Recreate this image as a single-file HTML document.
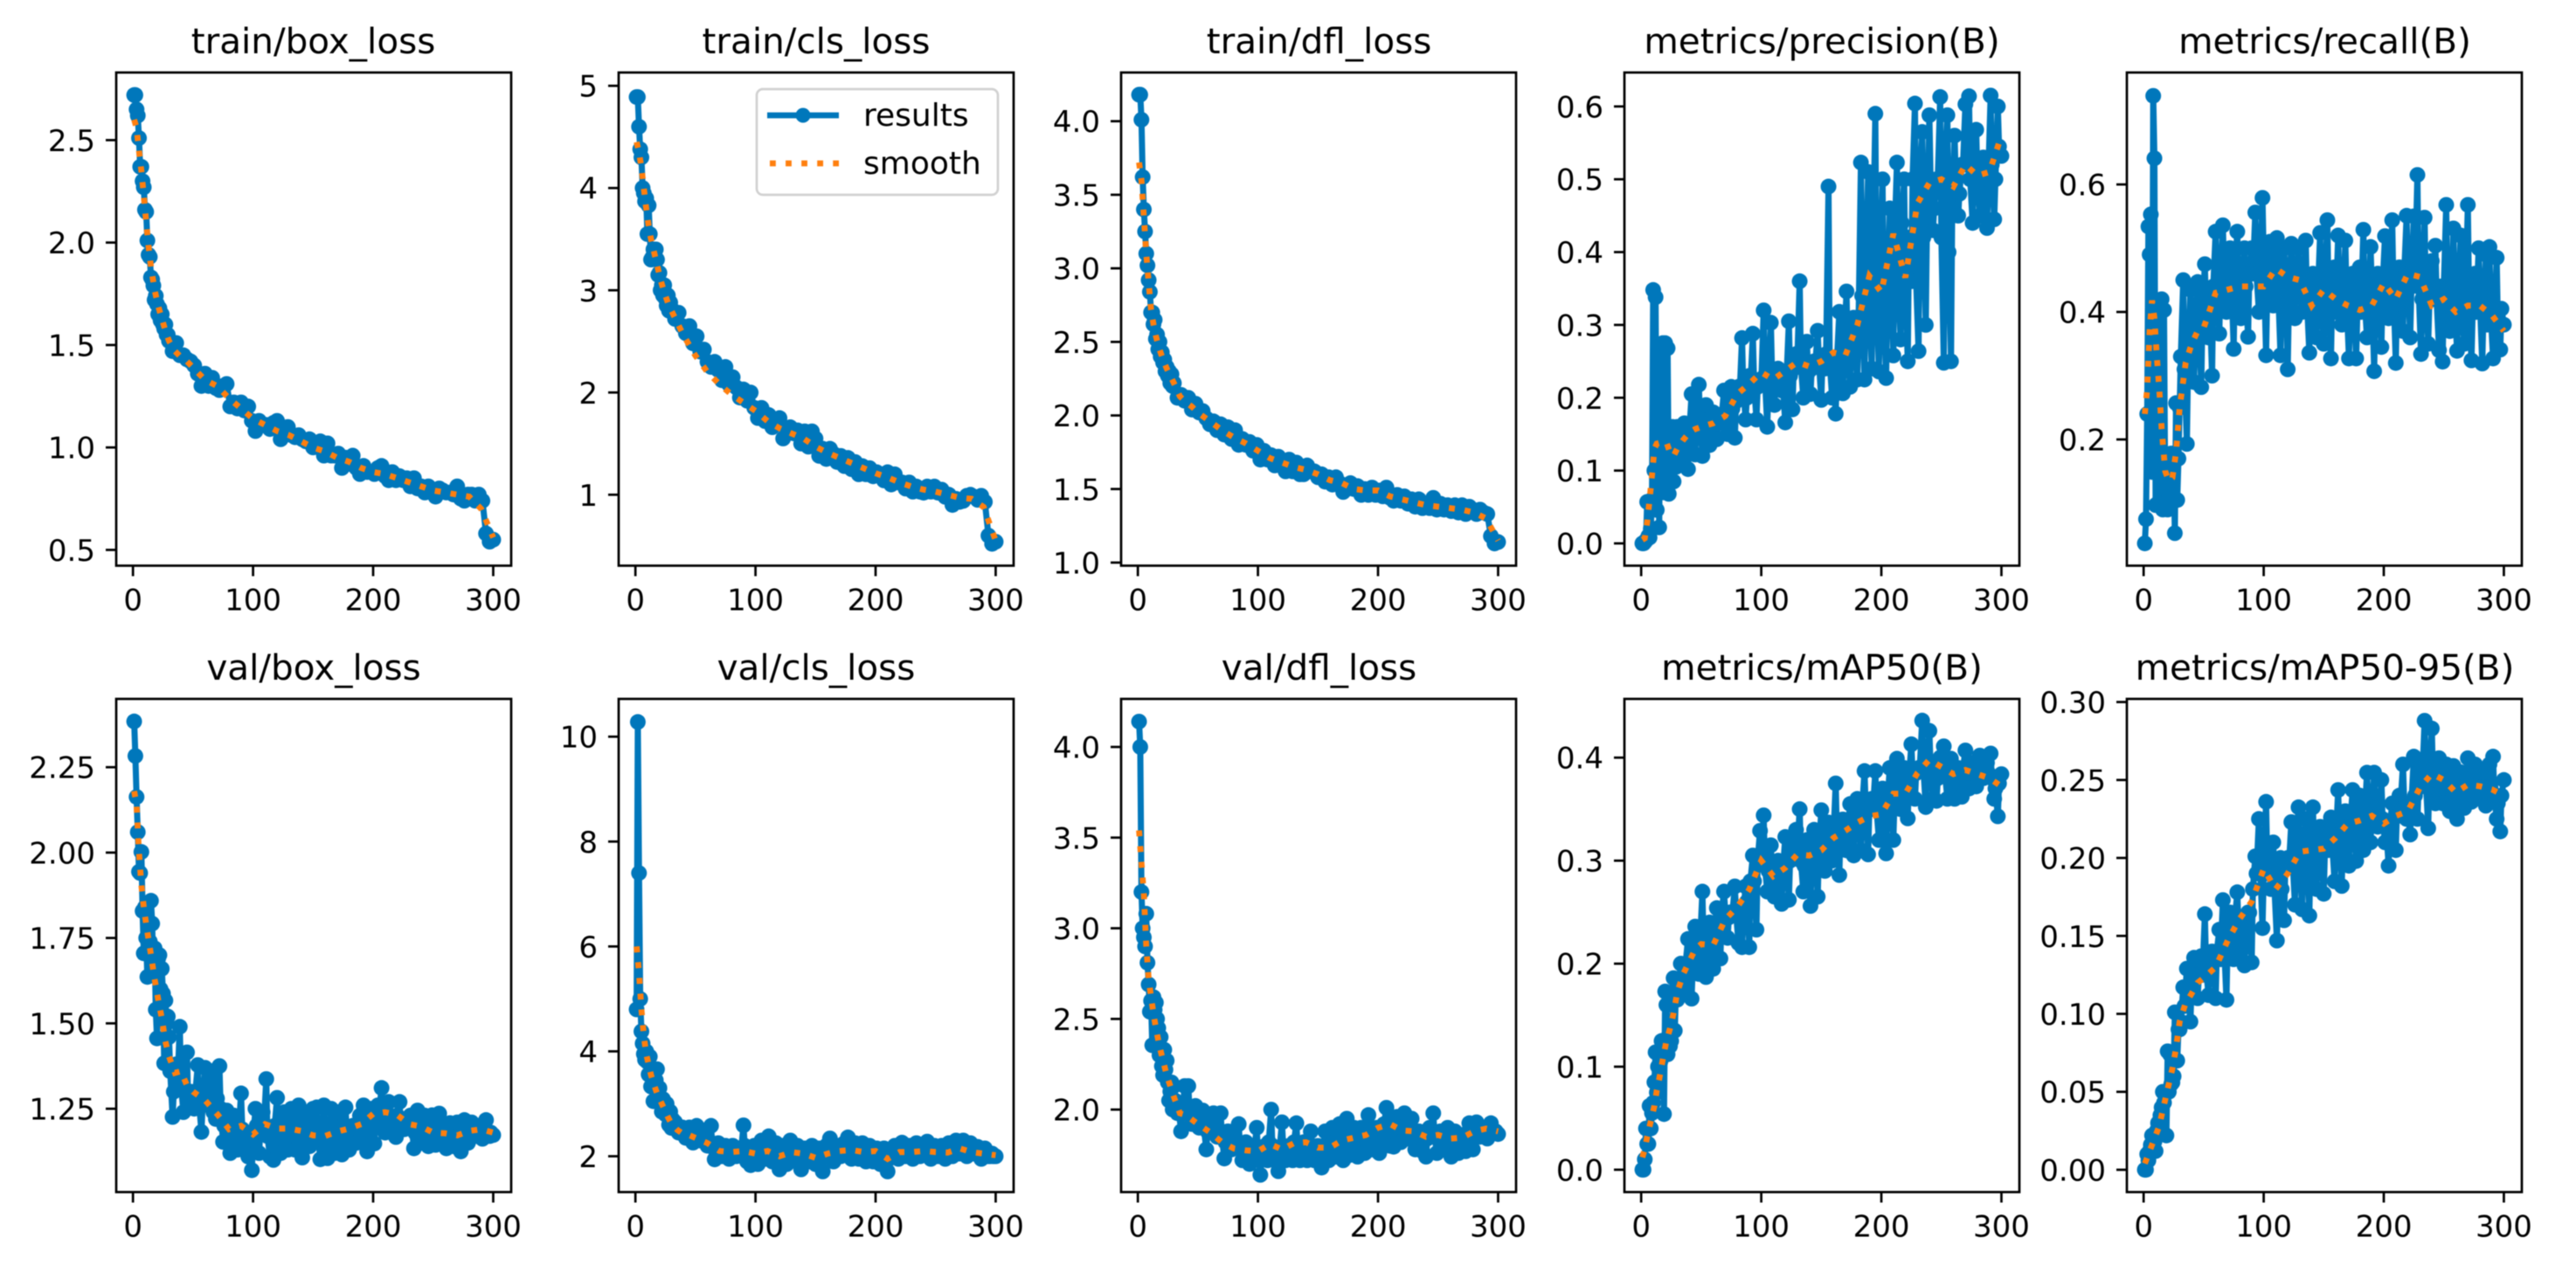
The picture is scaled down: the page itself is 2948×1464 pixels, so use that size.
<!DOCTYPE html>
<html lang="en">
<head>
<meta charset="utf-8">
<title>Training results</title>
<style>
html,body{margin:0;padding:0;background:#fff;width:2948px;height:1464px;overflow:hidden}
svg{display:block;filter:blur(0.5px)}
text{font-family:"DejaVu Sans","Liberation Sans",sans-serif;fill:#000}
.title{font-size:40.5px;text-anchor:middle}
.tick{font-size:34px}
.legend-label{font-size:36px}
</style>
</head>
<body>
<svg id="figure" xmlns="http://www.w3.org/2000/svg" width="2948" height="1464" viewBox="0 0 2948 1464">
  <rect x="0" y="0" width="2948" height="1464" fill="#fff"/>
  <g id="p0"><text class="title" x="358.5" y="61">train/box_loss</text></g>
  <g id="p1"><text class="title" x="934" y="61">train/cls_loss</text></g>
  <g id="p2"><text class="title" x="1509.5" y="61">train/dfl_loss</text></g>
  <g id="p3"><text class="title" x="2085" y="61">metrics/precision(B)</text></g>
  <g id="p4"><text class="title" x="2660.5" y="61">metrics/recall(B)</text></g>
  <g id="p5"><text class="title" x="359" y="778">val/box_loss</text></g>
  <g id="p6"><text class="title" x="934" y="778">val/cls_loss</text></g>
  <g id="p7"><text class="title" x="1509.5" y="778">val/dfl_loss</text></g>
  <g id="p8"><text class="title" x="2085" y="778">metrics/mAP50(B)</text></g>
  <g id="p9"><text class="title" x="2660.5" y="778">metrics/mAP50-95(B)</text></g>
  <g id="legend">
    <rect x="866" y="102" width="276" height="121" rx="7" ry="7" fill="#fff" fill-opacity="0.8" stroke="#ccc" stroke-opacity="0.9" stroke-width="2.7"/>
    <g>
      <line x1="878" y1="132" x2="960" y2="132" stroke="#0077bb" stroke-width="6.8"/>
      <circle cx="919" cy="132" r="8.5" fill="#0077bb"/>
      <text class="legend-label" x="988" y="144">results</text>
    </g>
    <g>
      <line x1="881" y1="187" x2="960" y2="187" stroke="#ff7f0e" stroke-width="6.8" stroke-dasharray="6.82 11.25"/>
      <text class="legend-label" x="988" y="199">smooth</text>
    </g>
  </g>
</svg>
<script>
// ---- shared x data ----
const epochs = [
 1,2,3,4,5,6,7,8,9,10,
 11,12,13,14,15,16,17,18,19,20,
 21,22,23,24,25,26,27,28,29,30,
 33,36,39,42,45,48,51,54,57,60,
 63,66,69,72,75,78,81,84,87,90,
 93,96,99,102,105,108,111,114,117,120,
 123,126,129,132,135,138,141,144,147,150,
 153,156,159,162,165,168,171,174,177,180,
 183,186,189,192,195,198,201,204,207,210,
 213,216,219,222,225,228,231,234,237,240,
 243,246,249,252,255,258,261,264,267,270,
 273,276,279,282,285,288,291,294,297,300];
const midEpochs = [
 31,34,37,40,43,46,49,52,55,58,
 61,64,67,70,73,76,79,82,85,88,
 91,94,97,100,103,106,109,112,115,118,
 121,124,127,130,133,136,139,142,145,148,
 151,154,157,160,163,166,169,172,175,178,
 181,184,187,190,193,196,199,202,205,208,
 211,214,217,220,223,226,229,232,235,238,
 241,244,247,250,253,256,259,262,265,268,
 271,274,277,280,283,286,289,292,295,298];
const smoothEpochs = [1,3,5,7,9,11,13,15,18,21,24,27,30,35,40,45,50,60,70,80,90,100,110,120,130,140,150,160,170,180,190,200,210,220,230,240,250,260,270,280,290,300];
const xTickValues = [0,100,200,300];

// ---- series values (results) ----
const trainBoxLoss = [
 2.72,2.72,2.65,2.62,2.51,2.37,2.37,2.30,2.27,2.16,
 2.15,2.01,1.94,1.93,1.83,1.82,1.79,1.72,1.74,1.70,
 1.65,1.68,1.62,1.65,1.60,1.58,1.60,1.55,1.55,1.52,
 1.47,1.51,1.45,1.45,1.43,1.42,1.40,1.36,1.30,1.36,
 1.30,1.34,1.29,1.28,1.30,1.31,1.20,1.22,1.19,1.22,
 1.18,1.20,1.13,1.08,1.13,1.11,1.11,1.09,1.12,1.13,
 1.04,1.07,1.10,1.06,1.05,1.06,1.04,1.03,1.04,1.00,
 1.02,1.03,0.96,1.02,0.96,0.96,0.97,0.90,0.95,0.92,
 0.96,0.90,0.87,0.91,0.88,0.88,0.87,0.90,0.91,0.86,
 0.84,0.88,0.84,0.86,0.84,0.85,0.81,0.85,0.80,0.81,
 0.78,0.81,0.78,0.76,0.80,0.79,0.78,0.78,0.77,0.81,
 0.75,0.74,0.77,0.77,0.74,0.77,0.74,0.58,0.54,0.55];
const trainClsLoss = [
 4.89,4.89,4.60,4.38,4.30,4.00,3.95,3.87,3.90,3.55,
 3.83,3.55,3.30,3.32,3.40,3.36,3.40,3.30,3.15,3.17,
 3.00,3.05,2.95,3.05,2.92,2.85,2.95,2.80,2.88,2.82,
 2.72,2.78,2.65,2.58,2.65,2.48,2.55,2.40,2.42,2.30,
 2.25,2.30,2.22,2.12,2.25,2.08,2.15,2.05,1.95,2.03,
 1.92,2.00,1.85,1.75,1.85,1.72,1.78,1.66,1.72,1.75,
 1.55,1.65,1.66,1.60,1.63,1.50,1.62,1.47,1.62,1.55,
 1.38,1.45,1.35,1.45,1.40,1.32,1.38,1.28,1.36,1.25,
 1.32,1.20,1.28,1.20,1.26,1.18,1.22,1.18,1.14,1.22,
 1.10,1.20,1.12,1.12,1.06,1.12,1.03,1.08,1.03,1.02,
 1.08,1.03,1.08,1.02,1.05,0.98,1.00,0.90,0.96,0.93,
 0.94,0.99,1.00,0.98,0.95,0.99,0.93,0.60,0.52,0.54];
const trainDflLoss = [
 4.18,4.18,4.01,3.62,3.40,3.25,3.10,3.02,2.92,2.84,
 2.70,2.70,2.62,2.65,2.52,2.55,2.45,2.50,2.40,2.43,
 2.36,2.38,2.30,2.33,2.27,2.30,2.22,2.28,2.20,2.22,
 2.12,2.14,2.10,2.12,2.04,2.08,2.02,2.03,1.98,1.94,
 1.96,1.90,1.94,1.87,1.92,1.84,1.90,1.80,1.84,1.80,
 1.82,1.76,1.80,1.70,1.76,1.70,1.73,1.66,1.72,1.68,
 1.62,1.70,1.62,1.68,1.60,1.60,1.66,1.62,1.62,1.58,
 1.60,1.55,1.58,1.53,1.58,1.54,1.48,1.50,1.54,1.50,
 1.52,1.46,1.50,1.46,1.51,1.46,1.49,1.45,1.51,1.44,
 1.42,1.46,1.42,1.45,1.40,1.43,1.38,1.43,1.37,1.39,
 1.37,1.44,1.36,1.40,1.36,1.39,1.35,1.39,1.34,1.39,
 1.33,1.38,1.36,1.33,1.36,1.34,1.33,1.18,1.13,1.14];
const precision = [
 .000,.000,.002,.004,.057,.010,.008,.020,.060,.348,
 .100,.338,.046,.270,.022,.270,.090,.275,.070,.275,
 .085,.268,.068,.150,.110,.160,.085,.140,.105,.160,
 .110,.165,.102,.205,.122,.218,.120,.190,.135,.180,
 .143,.170,.210,.150,.215,.145,.215,.282,.170,.230,
 .288,.170,.225,.320,.160,.303,.190,.240,.210,.166,
 .305,.184,.260,.360,.200,.277,.205,.250,.292,.197,
 .240,.490,.200,.178,.318,.206,.346,.215,.310,.225,
 .523,.225,.510,.240,.590,.236,.500,.227,.460,.258,
 .523,.280,.500,.250,.360,.604,.264,.565,.300,.588,
 .430,.500,.613,.248,.588,.250,.560,.450,.520,.603,
 .614,.440,.568,.450,.530,.433,.615,.445,.600,.532];
const precisionMid = [
 .140,.135,.150,.150,.160,.165,.170,.160,.160,.155,
 .165,.165,.175,.180,.185,.185,.195,.205,.215,.200,
 .215,.220,.215,.220,.230,.220,.230,.230,.225,.215,
 .225,.230,.240,.250,.245,.240,.235,.240,.245,.250,
 .255,.260,.250,.240,.250,.260,.270,.260,.270,.280,
 .300,.340,.380,.330,.400,.340,.360,.320,.340,.370,
 .420,.360,.440,.360,.420,.500,.360,.500,.420,.440,
 .500,.460,.500,.420,.520,.400,.460,.500,.480,.520,
 .520,.500,.520,.500,.480,.520,.500,.520,.500,.545];
const recall = [
 .037,.075,.240,.534,.490,.553,.149,.739,.641,.097,
 .400,.100,.350,.095,.420,.090,.403,.100,.160,.090,
 .175,.110,.178,.105,.178,.053,.257,.105,.170,.250,
 .450,.193,.435,.290,.447,.282,.475,.360,.300,.526,
 .366,.536,.400,.500,.342,.526,.390,.500,.361,.500,
 .556,.400,.579,.332,.510,.410,.516,.332,.500,.310,
 .507,.390,.500,.400,.512,.336,.460,.360,.524,.350,
 .544,.327,.470,.520,.380,.512,.327,.460,.327,.470,
 .529,.360,.502,.307,.460,.345,.519,.390,.544,.320,
 .470,.370,.551,.360,.550,.615,.334,.548,.350,.480,
 .504,.340,.322,.568,.370,.531,.339,.520,.350,.568,
 .324,.460,.500,.319,.490,.502,.327,.485,.341,.380];
const recallMid = [
 .330,.310,.320,.360,.380,.380,.400,.400,.420,.440,
 .440,.440,.460,.440,.460,.460,.440,.440,.440,.460,
 .460,.460,.460,.480,.440,.460,.480,.440,.460,.460,
 .420,.440,.460,.440,.440,.420,.420,.400,.420,.420,
 .440,.420,.420,.400,.440,.400,.420,.400,.420,.400,
 .400,.420,.400,.440,.420,.420,.440,.460,.440,.440,
 .420,.420,.460,.460,.440,.460,.440,.420,.420,.420,
 .420,.420,.440,.440,.420,.400,.420,.420,.400,.420,
 .420,.400,.400,.420,.400,.380,.400,.380,.380,.405];
const valBoxLoss = [
 2.384,2.283,2.163,2.06,1.944,1.94,2.002,1.829,1.705,1.84,
 1.75,1.636,1.80,1.74,1.859,1.792,1.64,1.72,1.54,1.456,
 1.69,1.70,1.60,1.66,1.587,1.383,1.567,1.50,1.52,1.46,
 1.226,1.38,1.49,1.24,1.415,1.30,1.25,1.378,1.182,1.37,
 1.26,1.36,1.22,1.375,1.153,1.245,1.12,1.23,1.13,1.295,
 1.15,1.11,1.07,1.25,1.12,1.24,1.337,1.11,1.10,1.282,
 1.12,1.24,1.13,1.25,1.13,1.26,1.107,1.23,1.14,1.25,
 1.254,1.102,1.26,1.105,1.25,1.12,1.24,1.116,1.254,1.13,
 1.20,1.15,1.23,1.26,1.125,1.25,1.148,1.26,1.311,1.18,
 1.27,1.18,1.167,1.27,1.20,1.21,1.23,1.134,1.245,1.15,
 1.23,1.14,1.231,1.144,1.236,1.15,1.134,1.208,1.14,1.21,
 1.125,1.217,1.15,1.21,1.17,1.20,1.162,1.217,1.17,1.173];
const valBoxMid = [
 1.36,1.30,1.32,1.32,1.30,1.26,1.28,1.30,1.27,1.26,
 1.28,1.30,1.24,1.28,1.25,1.20,1.20,1.18,1.18,1.18,
 1.19,1.17,1.16,1.16,1.20,1.18,1.20,1.17,1.18,1.20,
 1.18,1.20,1.18,1.19,1.18,1.18,1.20,1.18,1.17,1.18,
 1.17,1.18,1.16,1.18,1.16,1.18,1.18,1.17,1.20,1.18,
 1.17,1.20,1.19,1.18,1.20,1.19,1.20,1.22,1.24,1.22,
 1.20,1.23,1.22,1.23,1.20,1.19,1.22,1.20,1.18,1.20,
 1.18,1.19,1.18,1.19,1.19,1.18,1.18,1.17,1.17,1.18,
 1.17,1.16,1.18,1.18,1.17,1.18,1.19,1.19,1.18,1.18];
const valClsLoss = [
 4.80,10.28,7.40,5.00,4.38,4.15,3.95,3.84,4.00,3.80,
 3.56,3.90,3.33,3.60,3.05,3.30,3.45,3.66,3.05,3.30,
 3.10,2.85,3.09,2.95,2.80,3.00,2.85,2.60,2.85,2.54,
 2.65,2.45,2.55,2.35,2.55,2.26,2.58,2.30,2.45,2.20,
 2.58,1.94,2.25,2.00,2.20,1.95,2.20,2.00,2.15,2.59,
 1.90,1.83,2.20,1.85,2.30,1.95,2.38,1.90,2.25,1.75,
 2.20,1.85,2.30,1.95,2.20,1.75,2.15,1.90,2.20,1.85,
 2.15,1.71,2.20,2.34,1.90,2.20,2.00,2.25,2.36,1.95,
 2.25,1.95,2.25,1.90,2.20,1.90,2.15,1.85,2.15,1.71,
 2.00,2.20,1.95,2.26,2.00,2.20,1.95,2.25,2.00,2.20,
 2.28,1.95,2.20,2.00,2.20,1.95,2.25,2.00,2.30,2.05,
 2.30,2.00,2.25,2.05,2.18,1.95,2.15,2.00,2.05,2.00];
const valClsMid = [
 2.70,2.60,2.55,2.50,2.42,2.42,2.40,2.35,2.30,2.30,
 2.30,2.20,2.10,2.10,2.10,2.10,2.08,2.10,2.08,2.10,
 2.20,2.05,2.00,2.05,2.10,2.05,2.15,2.10,2.05,2.00,
 2.05,2.10,2.05,2.10,2.05,2.00,2.05,2.05,2.05,2.05,
 2.00,1.95,2.00,2.10,2.05,2.10,2.10,2.15,2.15,2.10,
 2.10,2.05,2.10,2.05,2.10,2.05,2.05,2.10,2.00,1.95,
 1.95,2.00,2.05,2.05,2.10,2.05,2.10,2.05,2.10,2.10,
 2.10,2.05,2.10,2.05,2.08,2.05,2.10,2.10,2.10,2.15,
 2.15,2.10,2.10,2.10,2.10,2.05,2.05,2.05,2.00,2.00];
const valDflLoss = [
 4.14,4.00,3.20,3.00,2.95,2.90,3.08,2.81,2.69,2.54,
 2.60,2.355,2.62,2.55,2.59,2.50,2.45,2.30,2.40,2.24,
 2.19,2.33,2.22,2.27,2.15,2.05,2.10,2.15,2.00,2.13,
 1.98,1.88,2.13,2.13,1.92,2.02,1.90,1.995,1.78,1.95,
 1.98,1.85,1.98,1.73,1.88,1.78,1.80,1.92,1.72,1.82,
 1.70,1.80,1.90,1.64,1.75,1.72,2.00,1.72,1.66,1.93,
 1.72,1.80,1.72,1.925,1.72,1.82,1.72,1.88,1.72,1.80,
 1.68,1.88,1.72,1.90,1.74,1.92,1.72,1.95,1.75,1.90,
 1.74,1.90,1.76,1.97,1.78,1.80,1.76,1.80,2.01,1.80,
 1.795,1.96,1.82,1.98,1.84,1.95,1.78,1.88,1.77,1.74,
 1.90,1.98,1.76,1.88,1.78,1.90,1.74,1.88,1.76,1.85,
 1.77,1.925,1.78,1.93,1.85,1.88,1.84,1.925,1.87,1.865];
const valDflMid = [
 2.05,2.00,1.98,2.00,2.00,1.95,1.95,1.92,1.90,1.88,
 1.88,1.88,1.88,1.85,1.82,1.82,1.82,1.82,1.80,1.78,
 1.78,1.76,1.78,1.76,1.74,1.80,1.82,1.80,1.78,1.78,
 1.80,1.78,1.80,1.82,1.80,1.80,1.80,1.78,1.80,1.78,
 1.78,1.78,1.80,1.80,1.82,1.82,1.84,1.85,1.85,1.86,
 1.85,1.84,1.86,1.86,1.88,1.88,1.90,1.90,1.92,1.90,
 1.88,1.88,1.90,1.90,1.88,1.88,1.88,1.86,1.85,1.84,
 1.84,1.86,1.86,1.85,1.85,1.84,1.83,1.83,1.83,1.84,
 1.85,1.87,1.88,1.88,1.88,1.89,1.88,1.88,1.88,1.88];
const mAP50 = [
 .000,.000,.010,.040,.025,.025,.062,.040,.055,.065,
 .085,.114,.075,.100,.114,.105,.125,.125,.054,.173,
 .160,.112,.130,.120,.125,.135,.186,.135,.175,.165,
 .200,.175,.224,.166,.236,.190,.270,.187,.240,.195,
 .254,.205,.270,.225,.250,.275,.220,.216,.275,.216,
 .305,.233,.329,.344,.270,.315,.265,.300,.258,.323,
 .262,.320,.330,.350,.270,.320,.256,.330,.265,.349,
 .290,.337,.300,.375,.286,.340,.310,.355,.305,.360,
 .310,.387,.306,.360,.387,.320,.370,.307,.390,.320,
 .399,.350,.390,.341,.413,.360,.390,.436,.352,.426,
 .360,.358,.400,.411,.360,.399,.360,.390,.362,.407,
 .370,.395,.372,.402,.380,.395,.404,.360,.343,.384];
const mAP50Mid = [
 .175,.185,.200,.195,.200,.210,.220,.215,.215,.220,
 .235,.235,.250,.250,.245,.250,.250,.250,.250,.260,
 .280,.280,.300,.300,.295,.290,.285,.280,.280,.290,
 .300,.300,.310,.310,.300,.295,.300,.300,.310,.310,
 .315,.320,.325,.320,.325,.330,.330,.330,.335,.340,
 .340,.350,.350,.350,.350,.350,.350,.350,.355,.360,
 .360,.370,.370,.370,.380,.385,.385,.390,.390,.395,
 .390,.385,.380,.385,.385,.380,.385,.380,.385,.390,
 .385,.385,.385,.390,.385,.390,.385,.380,.370,.375];
const mAP5095 = [
 .000,.000,.010,.006,.012,.016,.022,.012,.018,.012,
 .025,.030,.028,.035,.040,.050,.043,.050,.022,.076,
 .050,.074,.055,.056,.060,.101,.070,.070,.090,.090,
 .117,.129,.095,.136,.110,.137,.164,.112,.140,.110,
 .154,.173,.109,.165,.135,.178,.140,.131,.165,.133,
 .201,.225,.155,.236,.190,.210,.147,.200,.160,.200,
 .223,.170,.2325,.167,.225,.163,.2325,.180,.220,.177,
 .220,.226,.185,.2436,.182,.230,.195,.2436,.198,.240,
 .205,.2547,.210,.2547,.220,.250,.210,.195,.235,.205,
 .240,.260,.225,.215,.265,.225,.260,.288,.219,.283,
 .235,.264,.235,.260,.230,.259,.225,.255,.232,.264,
 .236,.260,.240,.255,.2335,.260,.265,.225,.217,.250];
const mAP5095Mid = [
 .095,.105,.115,.120,.125,.125,.125,.130,.130,.135,
 .140,.135,.145,.150,.155,.160,.155,.155,.160,.165,
 .180,.190,.195,.190,.195,.180,.180,.180,.180,.195,
 .195,.200,.205,.200,.205,.205,.205,.205,.200,.205,
 .205,.205,.210,.210,.215,.215,.220,.220,.220,.225,
 .225,.225,.230,.230,.230,.225,.225,.220,.220,.225,
 .230,.235,.235,.230,.235,.240,.245,.250,.250,.255,
 .250,.250,.250,.245,.245,.245,.245,.250,.245,.250,
 .250,.245,.250,.245,.245,.245,.245,.240,.235,.240];

// ---- series values (smooth) ----
const trainBoxSmooth = [2.60,2.56,2.45,2.35,2.23,2.10,1.98,1.88,1.77,1.69,1.63,1.57,1.52,1.47,1.44,1.42,1.39,1.33,1.30,1.24,1.19,1.14,1.11,1.08,1.06,1.03,1.00,0.98,0.95,0.93,0.90,0.88,0.87,0.85,0.83,0.81,0.79,0.78,0.77,0.76,0.70,0.56];
const trainClsSmooth = [4.45,4.35,4.20,4.00,3.80,3.63,3.50,3.40,3.25,3.10,2.98,2.88,2.80,2.68,2.56,2.46,2.36,2.20,2.08,1.98,1.90,1.82,1.72,1.65,1.60,1.55,1.47,1.41,1.36,1.31,1.26,1.21,1.17,1.12,1.08,1.05,1.03,1.00,0.97,0.96,0.88,0.55];
const trainDflSmooth = [3.72,3.60,3.35,3.10,2.90,2.72,2.62,2.54,2.45,2.38,2.32,2.27,2.22,2.13,2.09,2.06,2.02,1.96,1.90,1.85,1.81,1.76,1.71,1.68,1.65,1.63,1.60,1.56,1.54,1.50,1.49,1.49,1.45,1.43,1.41,1.39,1.38,1.37,1.36,1.34,1.30,1.15];
const precisionSmooth = [.005,.007,.029,.060,.093,.130,.137,.138,.140,.139,.125,.120,.130,.142,.152,.157,.160,.165,.175,.205,.219,.235,.225,.237,.249,.243,.250,.262,.258,.300,.367,.345,.425,.365,.467,.495,.500,.490,.520,.505,.510,.560];
const recallSmooth = [.240,.280,.370,.418,.390,.330,.280,.218,.150,.135,.140,.180,.250,.320,.350,.370,.375,.430,.435,.440,.440,.440,.468,.455,.450,.410,.435,.420,.410,.403,.410,.445,.420,.460,.455,.410,.420,.400,.410,.410,.395,.370];
const valBoxSmooth = [2.18,2.14,2.00,1.905,1.84,1.79,1.745,1.70,1.63,1.57,1.515,1.447,1.403,1.355,1.36,1.318,1.30,1.275,1.235,1.19,1.20,1.175,1.205,1.192,1.192,1.185,1.172,1.17,1.183,1.192,1.205,1.235,1.24,1.232,1.205,1.198,1.18,1.178,1.172,1.185,1.19,1.18];
const valClsSmooth = [6.0,5.5,4.8,4.3,3.95,3.75,3.55,3.4,3.2,3.05,2.9,2.75,2.62,2.5,2.42,2.4,2.35,2.25,2.1,2.08,2.1,2.05,2.1,2.0,2.08,2.05,1.97,2.05,2.1,2.12,2.08,2.1,1.95,2.08,2.08,2.1,2.08,2.07,2.15,2.08,2.05,2.02];
const valDflSmooth = [3.54,3.36,3.19,2.90,2.72,2.62,2.53,2.45,2.35,2.27,2.19,2.13,2.07,1.98,1.97,1.945,1.92,1.875,1.82,1.785,1.775,1.77,1.81,1.78,1.815,1.82,1.79,1.79,1.83,1.845,1.86,1.90,1.92,1.885,1.88,1.85,1.86,1.84,1.845,1.88,1.895,1.88];
const mAP50Smooth = [.012,.020,.032,.042,.052,.062,.077,.088,.107,.125,.137,.152,.172,.190,.202,.214,.219,.218,.243,.255,.272,.300,.285,.293,.306,.305,.310,.322,.329,.337,.343,.345,.365,.365,.385,.398,.391,.384,.388,.384,.380,.372];
const mAP5095Smooth = [.004,.008,.012,.016,.020,.024,.028,.035,.045,.055,.065,.078,.095,.107,.113,.120,.123,.130,.147,.161,.172,.193,.180,.190,.204,.205,.206,.213,.222,.224,.227,.222,.227,.230,.245,.254,.250,.242,.247,.246,.244,.240];

// ---- y tick labels ----
const trainBoxTicks = ["0.5","1.0","1.5","2.0","2.5"];
const trainClsTicks = ["1","2","3","4","5"];
const trainDflTicks = ["1.0","1.5","2.0","2.5","3.0","3.5","4.0"];
const precisionTicks = ["0.0","0.1","0.2","0.3","0.4","0.5","0.6"];
const recallTicks = ["0.2","0.4","0.6"];
const valBoxTicks = ["1.25","1.50","1.75","2.00","2.25"];
const valClsTicks = ["2","4","6","8","10"];
const valDflTicks = ["2.0","2.5","3.0","3.5","4.0"];
const mAP50Ticks = ["0.0","0.1","0.2","0.3","0.4"];
const mAP5095Ticks = ["0.00","0.05","0.10","0.15","0.20","0.25","0.30"];

// ---- panel layout and axis domains ----
const panels = [
 {id:'p0',slug:'train-box',left:133,top:83,y:trainBoxLoss,m:null,s:trainBoxSmooth,t:trainBoxTicks,lo:0.423,hi:2.83},
 {id:'p1',slug:'train-cls',left:708,top:83,y:trainClsLoss,m:null,s:trainClsSmooth,t:trainClsTicks,lo:0.306,hi:5.13},
 {id:'p2',slug:'train-dfl',left:1283,top:83,y:trainDflLoss,m:null,s:trainDflSmooth,t:trainDflTicks,lo:0.979,hi:4.331},
 {id:'p3',slug:'precision',left:1859,top:83,y:precision,m:precisionMid,s:precisionSmooth,t:precisionTicks,lo:-0.0306,hi:0.6466},
 {id:'p4',slug:'recall',left:2434,top:83,y:recall,m:recallMid,s:recallSmooth,t:recallTicks,lo:0.002,hi:0.7756},
 {id:'p5',slug:'val-box',left:133,top:800,y:valBoxLoss,m:valBoxMid,s:valBoxSmooth,t:valBoxTicks,lo:1.006,hi:2.45},
 {id:'p6',slug:'val-cls',left:708,top:800,y:valClsLoss,m:valClsMid,s:valClsSmooth,t:valClsTicks,lo:1.317,hi:10.72},
 {id:'p7',slug:'val-dfl',left:1283,top:800,y:valDflLoss,m:valDflMid,s:valDflSmooth,t:valDflTicks,lo:1.545,hi:4.265},
 {id:'p8',slug:'map50',left:1859,top:800,y:mAP50,m:mAP50Mid,s:mAP50Smooth,t:mAP50Ticks,lo:-0.0217,hi:0.457},
 {id:'p9',slug:'map50-95',left:2434,top:800,y:mAP5095,m:mAP5095Mid,s:mAP5095Smooth,t:mAP5095Ticks,lo:-0.0143,hi:0.302}
];
const axW = 452, axH = 564.5, xMin = -13.95, xMax = 314.95;
const BLUE = '#0077bb', ORANGE = '#ff7f0e', NS = 'http://www.w3.org/2000/svg';

function make(parent, tag, attrs) {
  const el = document.createElementNS(NS, tag);
  for (const k in attrs) el.setAttribute(k, attrs[k]);
  parent.appendChild(el);
  return el;
}
function xScale(p, v) { return p.left + (v - xMin) / (xMax - xMin) * axW; }
function yScale(p, v) { return p.top + (p.hi - v) / (p.hi - p.lo) * axH; }
function seriesOf(p) {
  const out = [];
  for (let i = 0; i < Math.min(epochs.length, p.y.length); i++) out.push([epochs[i], p.y[i]]);
  if (p.m) for (let i = 0; i < Math.min(midEpochs.length, p.m.length); i++) out.push([midEpochs[i], p.m[i]]);
  out.sort(function (a, b) { return a[0] - b[0]; });
  return out;
}
function pointsOf(p, pairs) {
  return pairs.map(function (d) { return xScale(p, d[0]).toFixed(2) + ',' + yScale(p, d[1]).toFixed(2); }).join(' ');
}

const root = document.getElementById('figure');
const defs = make(root, 'defs', {});
panels.forEach(function (p) {
  const g = document.getElementById(p.id);
  const clip = make(defs, 'clipPath', {id: 'clip-' + p.id});
  make(clip, 'rect', {x: p.left, y: p.top, width: axW, height: axH});

  const plot = make(g, 'g', {'clip-path': 'url(#clip-' + p.id + ')'});
  
  

  const pairs = seriesOf(p);
  const line = make(plot, 'polyline', {points: pointsOf(p, pairs), fill: 'none', stroke: BLUE, 'stroke-width': 7, 'stroke-linejoin': 'round', 'stroke-linecap': 'round'});
  
  

  const marks = make(plot, 'g', {fill: BLUE});
  
  
  pairs.forEach(function (d) {
    const c = make(marks, 'circle', {cx: xScale(p, d[0]).toFixed(2), cy: yScale(p, d[1]).toFixed(2), r: 9});
    
    
  });

  const smoothPairs = [];
  for (let i = 0; i < Math.min(smoothEpochs.length, p.s.length); i++) smoothPairs.push([smoothEpochs[i], p.s[i]]);
  const smooth = make(plot, 'polyline', {points: pointsOf(p, smoothPairs), fill: 'none', stroke: ORANGE, 'stroke-width': 6.8, 'stroke-dasharray': '6.82 11.25'});
  
  

  const frame = make(g, 'rect', {x: p.left, y: p.top, width: axW, height: axH, fill: 'none', stroke: '#000', 'stroke-width': 2.7});
  
  

  const bottom = p.top + axH;
  xTickValues.forEach(function (v) {
    const x = xScale(p, v);
    const tick = make(g, 'line', {x1: x, x2: x, y1: bottom, y2: bottom + 12, stroke: '#000', 'stroke-width': 2.7});
    
    
    const label = make(g, 'text', {x: x, y: bottom + 51, 'text-anchor': 'middle', class: 'tick'});
    
    
    label.textContent = String(v);
  });
  p.t.forEach(function (s) {
    const y = yScale(p, parseFloat(s));
    const tick = make(g, 'line', {x1: p.left - 12, x2: p.left, y1: y, y2: y, stroke: '#000', 'stroke-width': 2.7});
    
    
    const label = make(g, 'text', {x: p.left - 24, y: y + 12.5, 'text-anchor': 'end', class: 'tick'});
    
    
    label.textContent = s;
  });
});
root.appendChild(document.getElementById('legend'));
</script>
</body>
</html>
